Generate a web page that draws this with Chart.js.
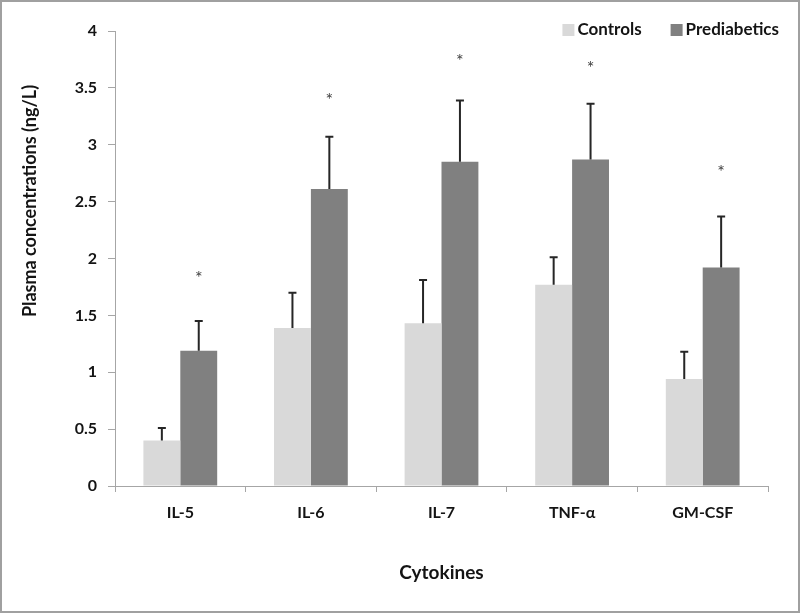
<!DOCTYPE html>
<html>
<head>
<meta charset="utf-8">
<script src="https://cdn.jsdelivr.net/npm/chart.js@4/dist/chart.umd.min.js"></script>
<style>
  html, body { margin: 0; padding: 0; background: #fff; }
  canvas { display: block; }
</style>
</head>
<body>
<canvas id="cytokineChart" width="800" height="613"></canvas>
<script>
// Cytokine bar chart

const categories = ['IL-5', 'IL-6', 'IL-7', 'TNF-α', 'GM-CSF'];
const controls = [0.40, 1.39, 1.43, 1.77, 0.94];
const controlsSd = [0.11, 0.31, 0.38, 0.24, 0.24];
const prediabetics = [1.19, 2.61, 2.85, 2.87, 1.92];
const prediabeticsSd = [0.26, 0.46, 0.54, 0.49, 0.45];
const starLevels = [1.86, 3.43, 3.77, 3.71, 2.79];
const yTicks = [0, 0.5, 1, 1.5, 2, 2.5, 3, 3.5, 4];

const FONT = 'Lato, "Open Sans", sans-serif';
const INK = '#141414';
const AXIS = '#a6a6a6';

// white page with the grey frame round it
const framePlugin = {
    id: 'frame',
    beforeDraw(chart) {
        const ctx = chart.ctx;
        ctx.save();
        ctx.fillStyle = '#fff';
        ctx.fillRect(0, 0, chart.width, chart.height);
        ctx.strokeStyle = '#a0a0a0';
        ctx.lineWidth = 2;
        ctx.strokeRect(1, 1, chart.width - 2, chart.height - 2);
        ctx.restore();
    }
};

// upper error bars, asterisks, y title and legend
const extrasPlugin = {
    id: 'extras',
    afterDatasetsDraw(chart) {
        const ctx = chart.ctx;
        const y = chart.scales.y;
        const sds = [controlsSd, prediabeticsSd];
        ctx.save();
        ctx.strokeStyle = '#262626';
        ctx.lineWidth = 2;
        chart.data.datasets.forEach((ds, i) => {
            chart.getDatasetMeta(i).data.forEach((bar, j) => {
                const top = y.getPixelForValue(ds.data[j] + sds[i][j]);
                ctx.beginPath();
                ctx.moveTo(bar.x, bar.y);
                ctx.lineTo(bar.x, top);
                ctx.moveTo(bar.x - 4, top);
                ctx.lineTo(bar.x + 4, top);
                ctx.stroke();
            });
        });

        ctx.fillStyle = '#404040';
        ctx.font = '18px ' + FONT;
        ctx.textAlign = 'center';
        ctx.textBaseline = 'middle';
        chart.getDatasetMeta(1).data.forEach((bar, j) => {
            ctx.fillText('*', bar.x, y.getPixelForValue(starLevels[j]) + 4);
        });
        ctx.restore();
    },
    afterDraw(chart) {
        const ctx = chart.ctx;
        const area = chart.chartArea;
        ctx.save();
        // y axis title
        ctx.fillStyle = INK;
        ctx.font = 'bold 18px ' + FONT;
        ctx.textAlign = 'center';
        ctx.textBaseline = 'middle';
        ctx.translate(30, 201);
        ctx.rotate(-Math.PI / 2);
        ctx.fillText('Plasma concentrations (ng/L)', 0, 0);
        ctx.restore();

        // legend, right aligned
        ctx.save();
        ctx.font = 'bold 17px ' + FONT;
        ctx.textBaseline = 'middle';
        ctx.textAlign = 'left';
        let x = area.right + 11;
        const cy = 30;
        const items = chart.data.datasets.slice().reverse();
        items.forEach(ds => {
            const w = ctx.measureText(ds.label).width;
            const tx = x - w;
            ctx.fillStyle = INK;
            ctx.fillText(ds.label, tx, cy);
            ctx.fillStyle = ds.backgroundColor;
            ctx.fillRect(tx - 15, cy - 6, 12, 12);
            x = tx - 15 - 29;
        });
        ctx.restore();
    }
};

const ctx = document.getElementById('cytokineChart').getContext('2d');
new Chart(ctx, {
    type: 'bar',
    data: {
        labels: categories,
        datasets: [
            {
                label: 'Controls',
                backgroundColor: '#d9d9d9',
                data: controls
            },
            {
                label: 'Prediabetics',
                backgroundColor: '#808080',
                data: prediabetics
            }
        ]
    },
    options: {
        responsive: false,
        animation: false,
        categoryPercentage: 0.565,
        barPercentage: 1.0,
        layout: {
            padding: { top: 31, right: 32, left: 0, bottom: 26 }
        },
        plugins: {
            legend: { display: false },
            tooltip: { enabled: false }
        },
        scales: {
            x: {
                grid: {
                    offset: true,
                    drawOnChartArea: false,
                    drawTicks: true,
                    tickLength: 6,
                    color: AXIS
                },
                border: { display: true, color: AXIS },
                ticks: {
                    color: INK,
                    padding: 11,
                    font: { family: FONT, size: 16, weight: 'bold' }
                },
                title: {
                    display: true,
                    text: 'Cytokines',
                    color: INK,
                    font: { family: FONT, size: 19, weight: 'bold' },
                    padding: { top: 0, bottom: 3 }
                },
                afterFit(scale) {
                    scale.height = 101;
                }
            },
            y: {
                min: 0,
                max: 4,
                afterBuildTicks(scale) {
                    scale.ticks = yTicks.map(v => ({ value: v }));
                },
                grid: {
                    drawOnChartArea: false,
                    drawTicks: true,
                    tickLength: 7,
                    color: AXIS
                },
                border: { display: true, color: AXIS },
                ticks: {
                    color: INK,
                    padding: 11,
                    font: { family: FONT, size: 16, weight: 'bold' },
                    callback: function(value) {
                        return String(value);
                    }
                },
                afterFit(scale) {
                    scale.width = 115;
                }
            }
        }
    },
    plugins: [framePlugin, extrasPlugin]
});
</script>
</body>
</html>
